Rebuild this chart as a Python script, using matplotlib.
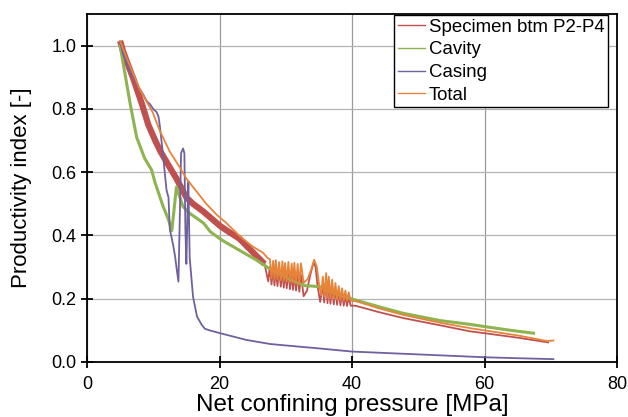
import numpy as np
import matplotlib.pyplot as plt

# Specimen btm P2-P4 (red)
red_x = [5.0, 5.4, 6.0, 7.0, 8.3, 9.25, 10.3, 11.1, 12.5, 13.5, 15.0, 16.0, 17.6, 18.6, 20.1, 21.0, 23.0, 25.6, 26.8,
         27.35, 27.6, 27.85, 28.1, 28.3, 28.5, 28.75, 29.0, 29.25, 29.5, 29.7, 29.9, 30.15, 30.4, 30.65, 30.9,
         31.1, 31.3, 31.55, 31.8, 32.05, 32.3, 32.7, 33.2, 33.7, 34.2, 34.5, 34.8, 35.2, 35.6, 35.8, 36.1,
         36.3, 36.5, 36.75, 37.0, 37.25, 37.5, 37.75, 38.0, 38.25, 38.5, 38.75, 39.0, 39.25, 39.5, 39.8,
         40.5, 44.0, 47.7, 53.3, 57.8, 60.0, 65.0, 69.6]
red_y = [1.015, 0.985, 0.95, 0.895, 0.815, 0.75, 0.70, 0.665, 0.615, 0.58, 0.52, 0.50, 0.475, 0.457, 0.43, 0.417,
         0.39, 0.335, 0.31,
         0.255, 0.300, 0.245, 0.298, 0.242, 0.297, 0.240, 0.294, 0.238, 0.292, 0.235, 0.290, 0.233, 0.288, 0.230, 0.285,
         0.228, 0.284, 0.226, 0.280, 0.222, 0.275, 0.208, 0.225, 0.275, 0.315, 0.300, 0.240, 0.190, 0.245, 0.188, 0.262,
         0.186, 0.252, 0.184, 0.243, 0.182, 0.235, 0.181, 0.228, 0.179, 0.220, 0.178, 0.213, 0.177, 0.205, 0.178,
         0.178, 0.158, 0.139, 0.116, 0.097, 0.091, 0.077, 0.062]

# Cavity (green)
green_x = [5.0, 5.2, 6.5, 7.5, 8.7, 9.75, 10.3, 11.5, 12.3, 12.8, 13.5, 14.5, 15.5, 17.6, 18.6, 20.3, 23.1, 25.6,
           27.4, 29.0, 30.5, 31.9, 33.0, 34.0, 35.4, 36.0, 38.0, 40.0, 44.0, 47.7, 53.3, 57.8, 60.0, 64.0, 67.4]
green_y = [1.0, 0.976, 0.818, 0.71, 0.644, 0.607, 0.565, 0.491, 0.45, 0.415, 0.553, 0.491, 0.47, 0.439, 0.412,
           0.386, 0.352, 0.322, 0.297, 0.28, 0.262, 0.249, 0.241, 0.240, 0.237, 0.228, 0.213, 0.199, 0.175, 0.154,
           0.131, 0.119, 0.112, 0.10, 0.091]

# Casing (purple)
purple_x = [5.0, 5.5, 6.5, 7.7, 8.5, 9.0, 9.5, 10.0, 10.5, 10.8, 11.0, 11.4, 12.0, 12.3, 12.5, 13.0, 13.3, 13.5,
            13.8, 13.95, 14.2, 14.5, 14.7, 14.85, 15.0, 15.15, 15.3, 15.5, 16.0, 16.6, 17.3, 17.8, 18.5, 20.1,
            24.0, 27.6, 29.1, 35.0, 40.0, 50.0, 57.8, 60.0, 65.0, 70.4]
purple_y = [1.01, 0.97, 0.92, 0.872, 0.845, 0.825, 0.815, 0.80, 0.79, 0.775, 0.745, 0.67, 0.544, 0.52, 0.42, 0.37,
            0.333, 0.30, 0.254, 0.40, 0.66, 0.675, 0.66, 0.42, 0.31, 0.45, 0.57, 0.33, 0.207, 0.144, 0.118, 0.105,
            0.10, 0.091, 0.07, 0.057, 0.054, 0.043, 0.033, 0.024, 0.017, 0.015, 0.012, 0.009]

# Total (orange)
orange_x = [5.0, 6.0, 8.0, 9.9, 11.0, 12.5, 14.0, 15.0, 16.5, 18.0, 19.6, 21.0, 23.1, 25.0, 26.6, 27.2,
            27.6, 27.85, 28.1, 28.3, 28.5, 28.75, 29.0, 29.25, 29.5, 29.7, 29.9, 30.15, 30.4, 30.65, 30.9,
            31.1, 31.3, 31.55, 31.8, 32.05, 32.3, 32.7, 33.3, 33.8, 34.3, 34.7, 35.1, 35.35, 35.6, 35.85, 36.1,
            36.3, 36.5, 36.75, 37.0, 37.25, 37.5, 37.75, 38.0, 38.25, 38.5, 38.75, 39.0, 39.25, 39.5, 39.8,
            40.5, 44.0, 47.7, 53.3, 57.8, 60.0, 65.0, 69.5, 70.4]
orange_y = [1.015, 0.96, 0.86, 0.79, 0.73, 0.665, 0.615, 0.58, 0.54, 0.50, 0.465, 0.44, 0.397, 0.365, 0.345, 0.33,
            0.325, 0.265, 0.320, 0.263, 0.322, 0.261, 0.316, 0.259, 0.318, 0.257, 0.313, 0.255, 0.316, 0.253, 0.311,
            0.251, 0.314, 0.249, 0.310, 0.247, 0.312, 0.250, 0.262, 0.29, 0.323, 0.30, 0.235, 0.212, 0.27, 0.207, 0.281,
            0.205, 0.27, 0.202, 0.26, 0.200, 0.25, 0.198, 0.24, 0.196, 0.233, 0.195, 0.226, 0.194, 0.22, 0.193,
            0.193, 0.17, 0.149, 0.124, 0.107, 0.100, 0.084, 0.066, 0.068]

plt.rcParams['font.family'] = ['Liberation Sans', 'DejaVu Sans']

fig = plt.figure(figsize=(6.28, 4.17), dpi=100)
ax = fig.add_axes([87/628, 1-362/417, 530/628, 348/417])

rx = np.array(red_x)
ry = np.array(red_y)
n_band = int((rx <= 27.0).sum())
# noisy band part of the specimen curve drawn thick
ax.plot(rx[:n_band], ry[:n_band], color='#C0504D', lw=4.5, solid_capstyle='butt')
ax.plot(rx[n_band - 1:], ry[n_band - 1:], color='#C0504D', lw=1.3, label='Specimen btm P2-P4')
ax.plot(green_x, green_y, color='#8DB450', lw=2.2, label='Cavity')
ax.plot(purple_x, purple_y, color='#7060A0', lw=1.3, label='Casing')
ax.plot(orange_x, orange_y, color='#E8843A', lw=1.3, label='Total')

ax.set_xlim(0, 80)
ax.set_ylim(0, 1.1)
ax.set_xticks([0, 20, 40, 60, 80])
ax.set_yticks([0.0, 0.2, 0.4, 0.6, 0.8, 1.0])
ax.set_yticklabels(['0.0', '0.2', '0.4', '0.6', '0.8', '1.0'])
ax.xaxis.grid(True, color='#999999', lw=0.9)
ax.yaxis.grid(True, color='#b3b3b3', lw=0.9)
ax.set_axisbelow(True)
for s in ax.spines.values():
    s.set_linewidth(1.3)
    s.set_color('black')
ax.tick_params(direction='inout', length=8, width=1.3, labelsize=13, colors='black')
ax.tick_params(axis='x', pad=6)

ax.set_xlabel('Net confining pressure [MPa]', fontsize=17.5, labelpad=1)
ax.set_ylabel('Productivity index [-]', fontsize=16, labelpad=14)

leg = ax.legend(loc='upper right', bbox_to_anchor=(0.983, 0.997), borderaxespad=0, fontsize=13.4,
                frameon=True, fancybox=False, edgecolor='black', framealpha=1, handlelength=1.45,
                handletextpad=0.2, borderpad=0.2, labelspacing=0.3)
leg.get_frame().set_linewidth(1.0)
for ln in leg.get_lines():
    ln.set_linewidth(1.0)

plt.savefig('out.png', dpi=100)
